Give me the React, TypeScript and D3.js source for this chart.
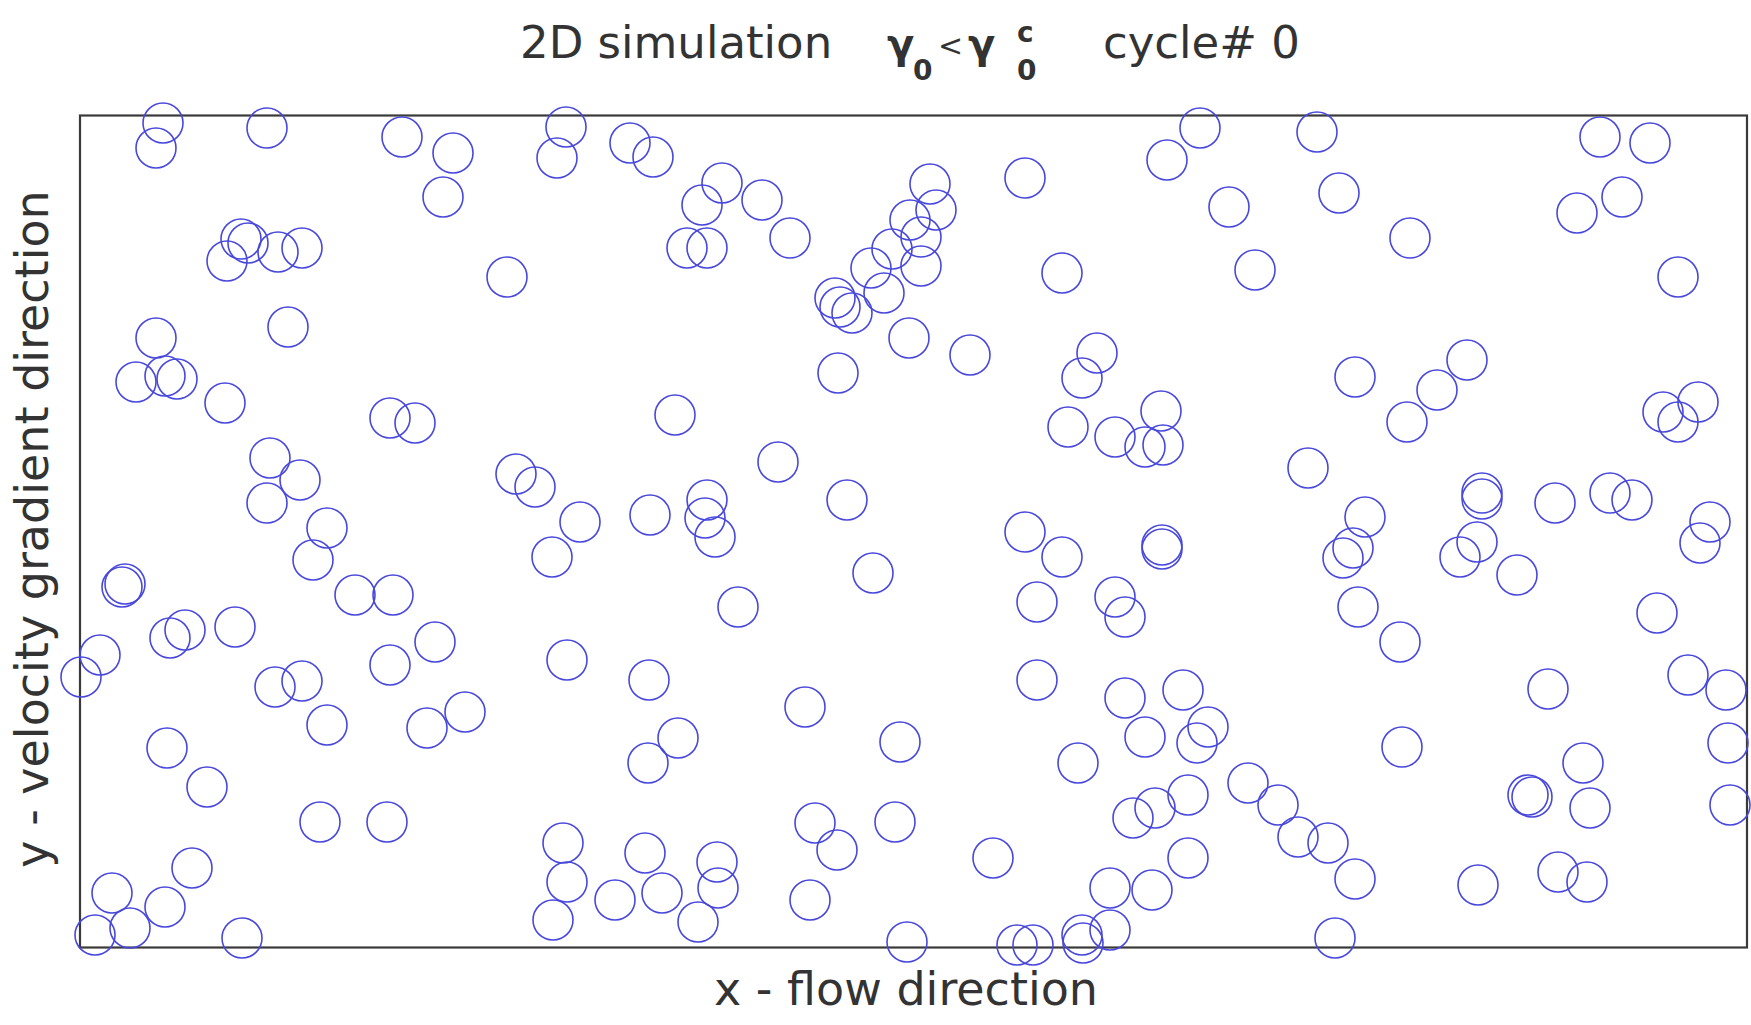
import React from "react";
import * as d3 from "d3";

const particlesTop: [number, number][] = [
  [163, 123], [156, 148], [267, 128], [402, 137], [453, 153], [443, 197],
  [241, 239], [248, 243], [227, 261], [278, 252], [302, 248], [288, 327],
  [156, 338], [136, 382], [165, 376], [177, 379], [225, 403], [507, 277],
  [566, 127], [557, 158], [630, 143], [653, 157], [722, 183], [702, 205],
  [762, 200], [687, 248], [707, 248], [790, 238],
  [835, 298], [840, 307], [852, 313], [871, 268], [884, 293], [892, 249],
  [910, 220], [921, 237], [921, 266], [930, 184], [936, 210], [909, 338],
  [838, 373],
  [1025, 178], [1200, 128], [1167, 160], [1317, 132], [1339, 193], [1062, 273],
  [1229, 207], [1255, 270], [970, 355], [1097, 353], [1082, 378], [1161, 411],
  [1410, 238], [1600, 137], [1650, 143], [1577, 213], [1622, 197], [1678, 277],
  [1355, 377], [1467, 360], [1437, 390], [1663, 412], [1698, 402], [1678, 422],
];

const particlesMiddle: [number, number][] = [
  [390, 418], [415, 423], [516, 474], [270, 458], [300, 480], [267, 503],
  [327, 528], [313, 560], [355, 595], [393, 595], [122, 587], [125, 584],
  [170, 638], [185, 630], [235, 627], [435, 642], [390, 665], [100, 655],
  [81, 677], [275, 687], [302, 681],
  [675, 415], [778, 462], [535, 487], [580, 522], [552, 557], [650, 515],
  [707, 500], [705, 518], [715, 537], [847, 500], [873, 573], [738, 607],
  [567, 660], [649, 680],
  [1068, 427], [1115, 437], [1145, 447], [1163, 445], [1308, 468], [1025, 532],
  [1062, 557], [1162, 545], [1162, 549], [1037, 602], [1115, 597], [1125, 617],
  [1037, 680], [1183, 690],
  [1407, 422], [1482, 493], [1482, 499], [1477, 542], [1460, 557], [1517, 575],
  [1555, 503], [1610, 493], [1632, 500], [1710, 522], [1700, 543], [1365, 517],
  [1353, 548], [1343, 558], [1358, 607], [1400, 642], [1657, 613], [1548, 689],
  [1688, 675], [1726, 690],
];

const particlesBottom: [number, number][] = [
  [327, 725], [427, 728], [465, 712], [167, 748], [207, 787], [320, 822],
  [387, 822], [192, 868], [112, 893], [165, 907], [95, 935], [130, 928],
  [242, 938],
  [805, 707], [678, 738], [648, 763], [900, 742], [563, 843], [567, 882],
  [553, 920], [615, 900], [645, 853], [662, 893], [717, 862], [718, 888],
  [698, 922], [815, 823], [837, 850], [895, 822], [810, 900], [907, 942],
  [1125, 698], [1145, 737], [1208, 727], [1197, 743], [1078, 763], [1248, 783],
  [1278, 805], [1298, 837], [1328, 843], [1355, 879], [1188, 795], [1155, 808],
  [1133, 818], [993, 858], [1188, 858], [1110, 888], [1152, 890], [1110, 930],
  [1082, 935], [1083, 943], [1017, 945], [1033, 945], [1335, 938],
  [1728, 743], [1730, 805], [1402, 747], [1583, 763], [1528, 795], [1532, 797],
  [1590, 808], [1478, 885], [1558, 872], [1587, 882],
];

const PARTICLE_RADIUS = 20;
const X_EXTENT = [80, 1747];
const Y_EXTENT = [115.5, 947.5];

const W = 1751;
const H = 1025;
const FONT = "'DejaVu Sans', Verdana, sans-serif";
const TEXT = "#333";

export default function App() {
  const x = d3.scaleLinear().domain(X_EXTENT).range([80, 1747]);
  const y = d3.scaleLinear().domain(Y_EXTENT).range([115.5, 947.5]);
  const r = x(X_EXTENT[0] + PARTICLE_RADIUS) - x(X_EXTENT[0]);

  const all = [...particlesTop, ...particlesMiddle, ...particlesBottom];

  return (
    <div style={{ position: "absolute", left: 0, top: 0 }}>
      <svg width={W} height={H} style={{ display: "block", background: "#fff" }}>
        {/* title */}
        <g fill={TEXT} fontFamily={FONT}>
          <text x={520} y={58} fontSize={45}>2D simulation</text>
          <text x={887} y={58} fontSize={40} fontWeight="bold">γ</text>
          <text x={913} y={80} fontSize={28} fontWeight="bold">0</text>
          <text x={938} y={56} fontSize={30}>&lt;</text>
          <text x={968} y={58} fontSize={40} fontWeight="bold">γ</text>
          <text x={1017} y={42} fontSize={28} fontWeight="bold">c</text>
          <text x={1017} y={80} fontSize={28} fontWeight="bold">0</text>
          <text x={1103} y={58} fontSize={45}>cycle# 0</text>
        </g>

        {/* frame */}
        <rect
          x={x(X_EXTENT[0])}
          y={y(Y_EXTENT[0])}
          width={x(X_EXTENT[1]) - x(X_EXTENT[0])}
          height={y(Y_EXTENT[1]) - y(Y_EXTENT[0])}
          fill="none"
          stroke="#3a3a3a"
          strokeWidth={2.2}
        />

        {/* particles */}
        <g fill="none" stroke="#4848dc" strokeWidth={1.6}>
          {all.map((d, i) => (
            <circle key={i} cx={x(d[0])} cy={y(d[1])} r={r} />
          ))}
        </g>

        {/* axis labels */}
        <text
          x={906}
          y={1005}
          fontSize={46}
          fontFamily={FONT}
          fill={TEXT}
          textAnchor="middle"
        >
          x - flow direction
        </text>
        <text
          transform="translate(48,529) rotate(-90)"
          fontSize={46}
          fontFamily={FONT}
          fill={TEXT}
          textAnchor="middle"
        >
          y - velocity gradient direction
        </text>
      </svg>
    </div>
  );
}
